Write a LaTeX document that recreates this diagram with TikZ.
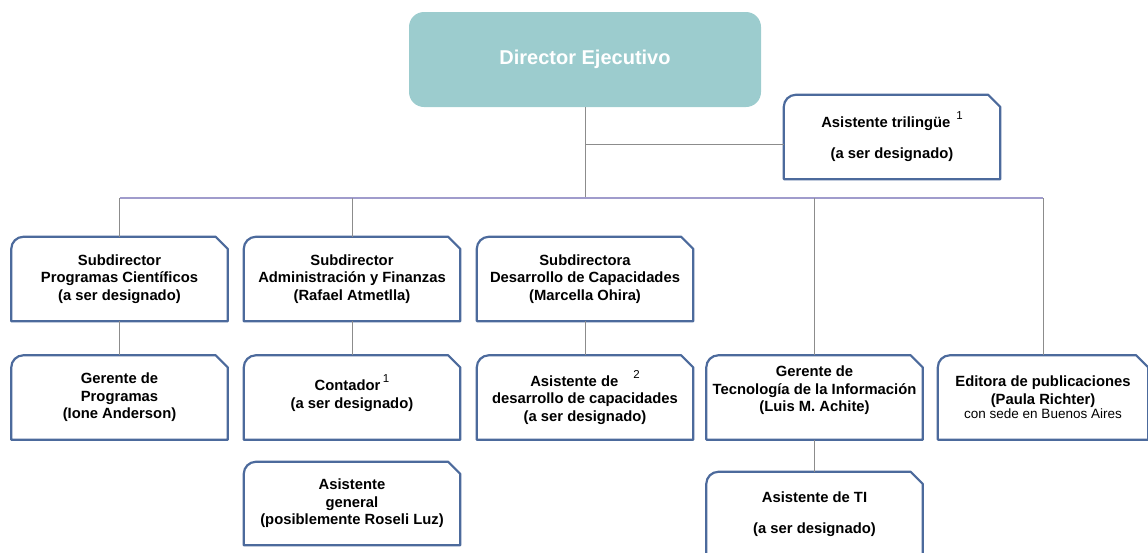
\documentclass[tikz,border=0pt]{standalone}
\usepackage{fontspec}
\setmainfont{Liberation Sans}
\definecolor{boxblue}{RGB}{76,106,156}
\definecolor{dirfill}{RGB}{156,204,206}
\definecolor{linegray}{RGB}{140,140,140}
\definecolor{buscol}{RGB}{160,156,204}
\newcommand\supnum[1]{\raisebox{8pt}{\mdseries\fontsize{11.5}{11.5}\selectfont#1}}
\tikzset{
  orgbox/.style={minimum width=216pt, minimum height=84pt, inner sep=0pt, align=center,
    font=\fontsize{14.8}{17.5}\selectfont\bfseries},
  boxline/.style={draw=boxblue, line width=2.2pt, line join=round},
  dirbox/.style={rectangle, rounded corners=15pt, fill=dirfill, draw=none, text=white,
    minimum width=352pt, minimum height=95pt, font=\fontsize{20}{22}\selectfont\bfseries},
  conn/.style={draw=linegray, line width=1pt},
  busline/.style={draw=buscol, line width=1.3pt},
}
\begin{document}
\begin{tikzpicture}[x=1pt, y=-1pt]
\useasboundingbox (0,0) rectangle (1148,552);
\clip (0,0) rectangle (1148,552);

\node[dirbox] (dir) at (585,59.5) {Director Ejecutivo};
\node[orgbox] (at) at (892,137) {Asistente trilingüe\hspace{6pt}\supnum{1}\\[13.5pt](a ser designado)};

\node[orgbox] (sp) at (119.5,279) {Subdirector\\Programas Científicos\\(a ser designado)};
\node[orgbox] (sa) at (352,279) {Subdirector\\Administración y Finanzas\\(Rafael Atmetlla)};
\node[orgbox] (sd) at (585,279) {Subdirectora\\Desarrollo de Capacidades\\(Marcella Ohira)};

\node[orgbox] (gp) at (119.5,397.5) {Gerente de\\Programas\\(Ione Anderson)};
\node[orgbox] (co) at (352,397.5) {Contador\,\supnum{1}\\(a ser designado)\\[-6pt]\mbox{}};
\node[orgbox] (asd) at (585,397.5) {Asistente de\hspace{15pt}\supnum{2}\\desarrollo de capacidades\\(a ser designado)};
\node[orgbox] (gti) at (814.5,397.5) {Gerente de\\Tecnología de la Información\\(Luis M. Achite)\\\mbox{}};
\node[orgbox, minimum width=210pt] (ed) at (1043,397.5) {Editora de publicaciones\\(Paula Richter)\\[-3pt]{\mdseries\fontsize{13.5}{14}\selectfont con sede en Buenos Aires}};

\node[orgbox, minimum height=83pt] (ag) at (352,503.5) {Asistente\\general\\(posiblemente Roseli Luz)};
\node[orgbox] (ati) at (814.5,514) {Asistente de TI\\[13.5pt](a ser designado)};

\foreach \n in {at,sp,sa,sd,gp,co,asd,gti,ed,ag,ati}{
  \draw[boxline] (\n.south west) -- ([yshift=-12pt]\n.north west)
      arc[start angle=180, end angle=90, radius=12pt]
      -- ([xshift=-12pt]\n.north east)
      -- ([yshift=-12pt]\n.north east)
      -- (\n.south east) -- cycle;
}

\coordinate (trunkEnd) at (585,198);
\coordinate (br) at (585,144);
\coordinate (busL) at (119.5,198);
\coordinate (busR) at (1043,198);

\draw[conn] (dir.south) -- (trunkEnd);
\draw[conn] (br) -- (br -| at.west);
\draw[busline] (busL) -- (busR);
\draw[conn] (busL) -- (sp.north);
\draw[conn] (sa.north |- busL) -- (sa.north);
\draw[conn] (gti.north |- busL) -- (gti.north);
\draw[conn] (busR) -- (ed.north);
\draw[conn] (sp.south) -- (gp.north);
\draw[conn] (sa.south) -- (co.north);
\draw[conn] (sd.south) -- (asd.north);
\draw[conn] (gti.south) -- (ati.north);
\end{tikzpicture}
\end{document}
